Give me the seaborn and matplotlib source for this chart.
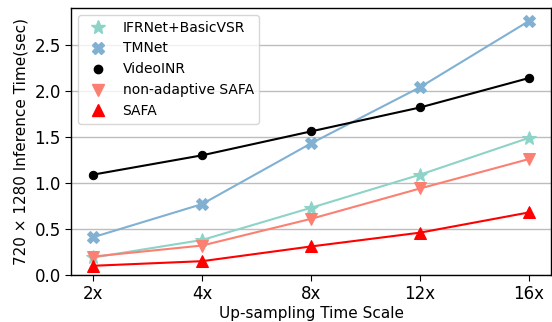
import matplotlib
matplotlib.use("Agg")
import matplotlib.pyplot as plt
import seaborn as sns
import pandas as pd
from matplotlib.lines import Line2D

scales = ["2x", "4x", "8x", "12x", "16x"]
ifrnet = [0.19, 0.38, 0.73, 1.09, 1.49]
tmnet = [0.41, 0.77, 1.43, 2.04, 2.76]
videoinr = [1.09, 1.30, 1.56, 1.82, 2.14]
nonadaptive = [0.20, 0.32, 0.61, 0.94, 1.26]
safa = [0.10, 0.15, 0.31, 0.46, 0.68]

names = ["IFRNet+BasicVSR", "TMNet", "VideoINR", "non-adaptive SAFA", "SAFA"]
series = [ifrnet, tmnet, videoinr, nonadaptive, safa]
colors = ["#8dd3c7", "#80b1d3", "black", "#fb8072", "red"]
markers = ["*", "X", "o", "v", "^"]
msizes = [10, 9, 6, 9, 9]

sns.set_style("white")
plt.rcParams['font.family'] = ['DejaVu Sans']
plt.rcParams['text.color'] = 'black'
plt.rcParams['axes.labelcolor'] = 'black'
plt.rcParams['xtick.color'] = 'black'
plt.rcParams['ytick.color'] = 'black'

fig, ax = plt.subplots(figsize=(5.52, 3.22), dpi=100)
x = list(range(len(scales)))
handles = []
for name, vals, c, m, ms in zip(names, series, colors, markers, msizes):
    df = pd.DataFrame({"x": x, "y": vals})
    sns.lineplot(data=df, x="x", y="y", ax=ax, color=c, marker=m, markersize=ms,
                 markeredgecolor=c, linewidth=1.5, zorder=3)
    handles.append(Line2D([], [], color=c, marker=m, markersize=ms, markeredgecolor=c,
                          linestyle="None", label=name))

ax.set_xticks(x)
ax.set_xticklabels(scales)
ax.set_xlim(-0.2, 4.2)
ax.set_ylim(0, 2.9)
ax.set_yticks([0, 0.5, 1.0, 1.5, 2.0, 2.5])
ax.yaxis.grid(True, color="#bdbdbd", linewidth=1)
ax.set_axisbelow(True)
for s in ax.spines.values():
    s.set_color("black")
    s.set_linewidth(1)
ax.tick_params(axis="both", labelsize=12, length=4, color="black", labelcolor="black",
               left=True, bottom=True)
ax.set_xlabel("Up-sampling Time Scale", fontsize=11, labelpad=2)
ax.set_ylabel("720 × 1280 Inference Time(sec)", fontsize=11, labelpad=4)
ax.legend(handles=handles, loc="upper left", fontsize=10, frameon=True)

fig.subplots_adjust(left=0.129, right=0.998, top=0.975, bottom=0.146)
fig.savefig("out.png", dpi=100)
